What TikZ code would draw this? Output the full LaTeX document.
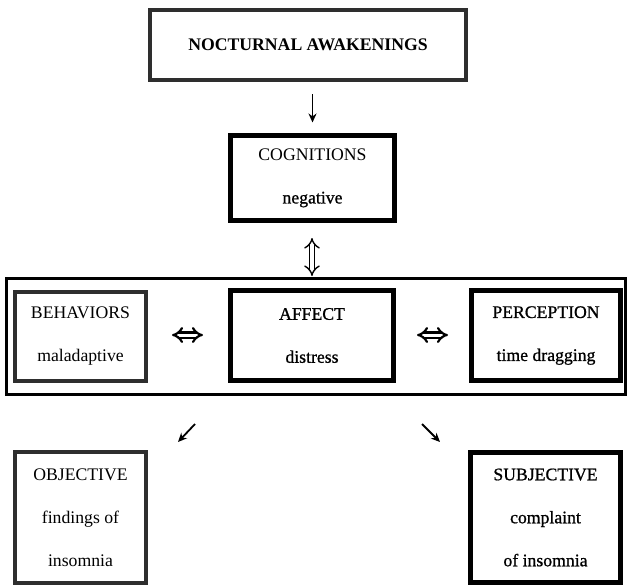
\documentclass[tikz,border=0pt]{standalone}
\usepackage{fontspec}
\setmainfont{Liberation Serif}
\newfontfamily\heavy[FakeBold=0.9]{Liberation Serif}
\usetikzlibrary{positioning, arrows.meta, arrows}

\begin{document}
\begin{tikzpicture}[x=1pt,y=-1pt,>={Stealth[length=9pt,width=8pt]},
    box/.style={rectangle,fill=white,align=center,inner sep=0pt,font=\fontsize{17.7}{43}\selectfont},
    greybox/.style={box,draw=black!82,line width=4pt},
    darkbox/.style={box,draw=black,line width=5pt,font=\fontsize{17.7}{43}\selectfont\heavy},
    dbl/.style={double,double distance=4pt,line width=1.4pt,{Implies}-{Implies}},
    hdbl/.style={double,double distance=3pt,line width=2.2pt,{Implies}-{Implies}}]
    \useasboundingbox (0,0) rectangle (628,584);

    \node[draw,line width=3pt,minimum width=619pt,minimum height=116pt,inner sep=0pt] (grp) at (316,336.5) {};

    \node[greybox,minimum width=316pt,minimum height=70pt] (noct) at (308,45) {\textbf{NOCTURNAL AWAKENINGS}};
    \node[darkbox,minimum width=164pt,minimum height=85pt] (cog) at (312.5,178) {{\normalfont COGNITIONS}\\negative};

    \node[greybox,minimum width=131pt,minimum height=89pt] (beh) at (80.5,336.5) {BEHAVIORS\\maladaptive};
    \node[darkbox,minimum width=163pt,minimum height=90pt] (aff) at (312,335.5) {AFFECT\\distress};
    \node[darkbox,minimum width=149pt,minimum height=90pt] (per) at (546,335.5) {PERCEPTION\\time dragging};

    \node[greybox,minimum width=131pt,minimum height=131pt] (obj) at (80.5,517.5) {OBJECTIVE\\findings of\\insomnia};
    \node[darkbox,minimum width=150pt,minimum height=130pt] (subj) at (545.5,517.5) {SUBJECTIVE\\complaint\\of insomnia};

    % free ends of the arrows
    \coordinate (cgtop) at (312,238);
    \coordinate (cgbot) at (312,276);
    \coordinate (bhl) at (172,335);
    \coordinate (bhr) at (203,335);
    \coordinate (prl) at (417,335);
    \coordinate (prr) at (448,335);
    \coordinate (dl) at (195,424);
    \coordinate (dlend) at (178,442);
    \coordinate (dr) at (422,424);
    \coordinate (drend) at (440,442);

    \draw[->,line width=1.5pt,shorten <=12pt,shorten >=10.5pt] (noct.south -| cog.north) -- (cog.north);
    \draw[dbl] (cgtop) -- (cgbot);
    \draw[hdbl] (bhl) -- (bhr);
    \draw[hdbl] (prl) -- (prr);
    \draw[->,line width=1.8pt] (dl) -- (dlend);
    \draw[->,line width=1.8pt] (dr) -- (drend);
\end{tikzpicture}
\end{document}
